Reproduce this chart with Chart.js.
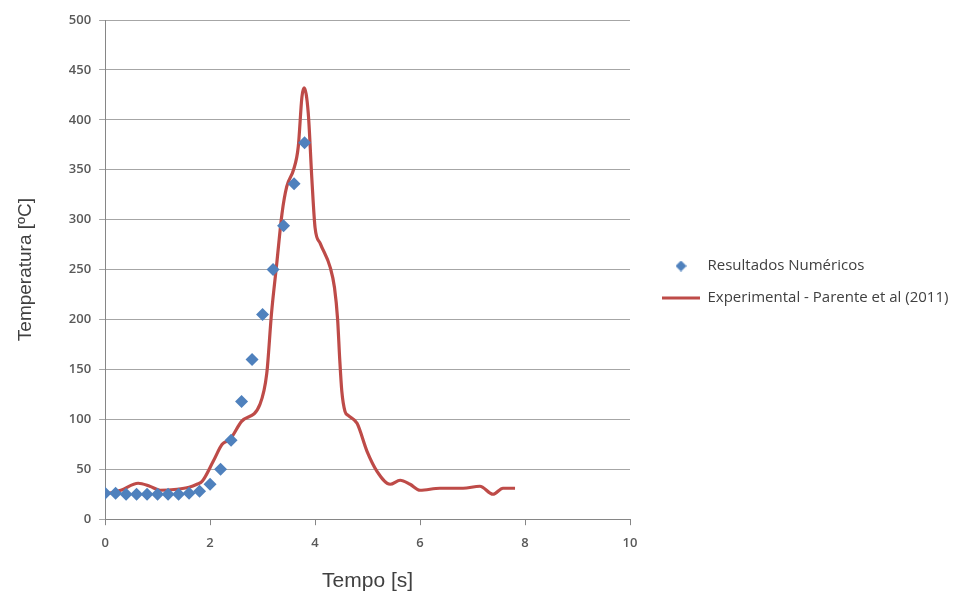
<!DOCTYPE html>
<html>
<head>
<meta charset="utf-8">
<script src="https://cdn.jsdelivr.net/npm/chart.js@4"></script>
<style>
  html, body { margin: 0; padding: 0; background: #fff; }
  #wrap { width: 960px; height: 594px; }
</style>
</head>
<body>
<div id="wrap"><canvas id="tempChart"></canvas></div>
<script>
// Resultados numéricos (diamantes)
const numTime = [0, 0.2, 0.4, 0.6, 0.8, 1.0, 1.2, 1.4, 1.6, 1.8, 2.0, 2.2, 2.4, 2.6, 2.8, 3.0, 3.2, 3.4, 3.6, 3.8];
const numTemp = [26, 26, 25, 25, 25, 25, 25, 25, 26, 28, 35, 50, 79, 118, 160, 205, 250, 294, 336, 377];

// Experimental - Parente et al (2011)
const expTime = [0, 0.3, 0.63, 0.85, 1.05, 1.37, 1.6, 1.75, 1.85, 2.06, 2.23, 2.38, 2.6, 2.95, 3.08, 3.17, 3.27,
  3.37, 3.46, 3.59, 3.68, 3.75, 3.79, 3.87, 3.94, 4.0, 4.1, 4.29, 4.37, 4.43, 4.47, 4.51, 4.57, 4.63, 4.8, 4.99, 5.18,
  5.43, 5.62, 5.81, 6.0, 6.38, 6.82, 7.14, 7.39, 7.58, 7.81];
const expTemp = [25, 29, 36, 33, 29, 30, 32, 35, 38, 58, 75, 80, 98, 115, 146, 206, 256,
  306, 333, 350, 373, 423, 432, 407, 340, 292, 276, 252, 232, 200, 160, 128, 108, 104, 96, 68, 48,
  35, 39, 35, 29, 31, 31, 33, 25, 31, 31];

const xTicks = [0, 2, 4, 6, 8, 10];
const yTicks = [0, 50, 100, 150, 200, 250, 300, 350, 400, 450, 500];

const seriesNames = ['Resultados Numéricos', 'Experimental - Parente et al (2011)'];

const toPoints = (xs, ys) => xs.map((x, i) => ({ x: x, y: ys[i] }));

document.addEventListener('DOMContentLoaded', function() {
  const ctx = document.getElementById('tempChart').getContext('2d');

  // small diamond for the legend (rectRot gets stretched by pointStyleWidth)
  const diamond = document.createElement('canvas');
  diamond.width = 11;
  diamond.height = 11;
  const dctx = diamond.getContext('2d');
  dctx.fillStyle = '#4f81bd';
  dctx.beginPath();
  dctx.moveTo(5.5, 0);
  dctx.lineTo(11, 5.5);
  dctx.lineTo(5.5, 11);
  dctx.lineTo(0, 5.5);
  dctx.closePath();
  dctx.fill();

  // fixed legend width so the plot ends where the original does, then nudge the legend
  const legendPlace = {
    id: 'legendPlace',
    afterInit(chart) {
      const fit = chart.legend.fit;
      chart.legend.fit = function() {
        fit.call(this);
        this.width = 330;
      };
    },
    afterLayout(chart) {
      const lg = chart.legend;
      lg.left += 15;
      lg.right += 15;
      lg.top -= 25;
      lg.bottom -= 25;
    }
  };

  new Chart(ctx, {
    type: 'scatter',
    data: {
      datasets: [{
        label: seriesNames[0],
        data: toPoints(numTime, numTemp),
        pointStyle: 'rectRot',
        pointRadius: 6.5,
        pointHoverRadius: 6.5,
        backgroundColor: '#4f81bd',
        borderColor: '#4f81bd',
        borderWidth: 0,
        order: 1
      }, {
        label: seriesNames[1],
        data: toPoints(expTime, expTemp),
        showLine: true,
        pointRadius: 0,
        borderColor: '#be4b48',
        backgroundColor: '#be4b48',
        borderWidth: 3.2,
        cubicInterpolationMode: 'monotone',
        order: 2
      }]
    },
    options: {
      responsive: true,
      maintainAspectRatio: false,
      animation: false,
      layout: { padding: { left: 14, top: 20, right: 0, bottom: 0 } },
      plugins: {
        tooltip: { enabled: false },
        legend: {
          position: 'right',
          align: 'center',
          labels: {
            usePointStyle: true,
            pointStyleWidth: 38,
            boxHeight: 8,
            padding: 17,
            color: '#404040',
            font: { family: 'Open Sans', size: 15 },
            generateLabels(chart) {
              return chart.data.datasets.map((ds, i) => ({
                text: ds.label,
                datasetIndex: i,
                fillStyle: ds.borderColor,
                strokeStyle: ds.borderColor,
                lineWidth: i === 0 ? 0 : 3,
                pointStyle: i === 0 ? diamond : 'line',
                fontColor: '#404040',
                hidden: false
              }));
            }
          }
        }
      },
      scales: {
        x: {
          type: 'linear',
          min: xTicks[0],
          max: xTicks[xTicks.length - 1],
          afterBuildTicks(scale) { scale.ticks = xTicks.map(v => ({ value: v })); },
          border: { color: '#868686', width: 1 },
          grid: { drawOnChartArea: false, drawTicks: true, tickLength: 6, color: '#868686' },
          ticks: { color: '#595959', padding: 10, font: { family: 'Open Sans', size: 13, weight: '600' } },
          title: {
            display: true,
            text: 'Tempo [s]',
            color: '#404040',
            padding: { top: 8, bottom: 0 },
            font: { family: 'Liberation Sans', size: 21 }
          }
        },
        y: {
          min: yTicks[0],
          max: yTicks[yTicks.length - 1],
          afterBuildTicks(scale) { scale.ticks = yTicks.map(v => ({ value: v })); },
          border: { color: '#868686', width: 1 },
          grid: { color: '#a6a6a6', lineWidth: 1, tickLength: 6 },
          ticks: { color: '#595959', padding: 8, font: { family: 'Open Sans', size: 13, weight: '600' } },
          title: {
            display: true,
            text: 'Temperatura [ºC]',
            color: '#404040',
            padding: { top: 0, bottom: 24 },
            font: { family: 'Liberation Sans', size: 19 }
          }
        }
      }
    },
    plugins: [legendPlace]
  });
});
</script>
</body>
</html>
